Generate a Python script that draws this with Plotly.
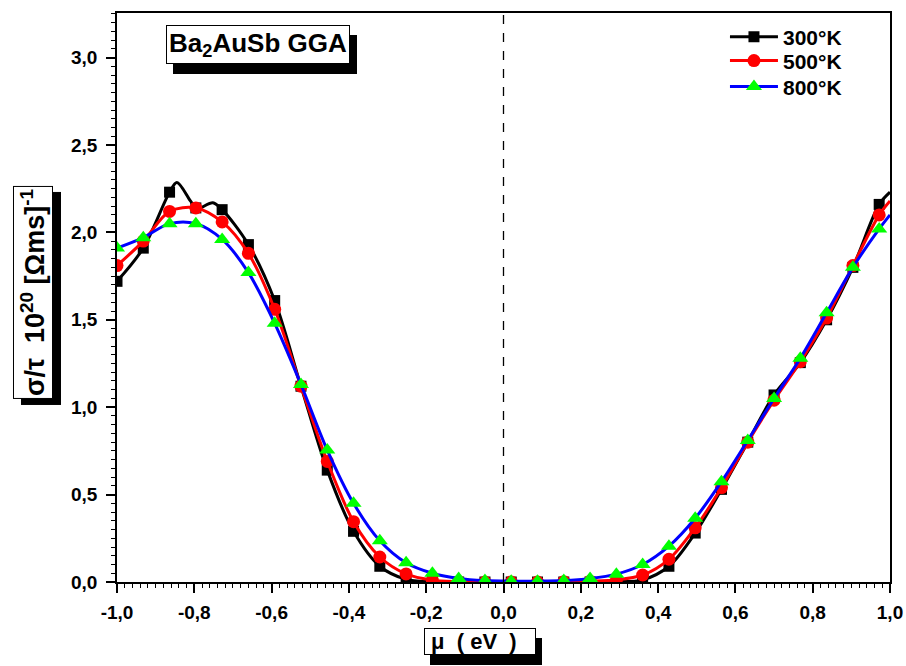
import plotly.graph_objects as go

# ---- data ----
x_marks = [-1.0, -0.932, -0.864, -0.796, -0.728, -0.660, -0.592, -0.524, -0.456, -0.388,
           -0.320, -0.252, -0.184, -0.116, -0.048, 0.020, 0.088, 0.156, 0.224, 0.292,
           0.360, 0.428, 0.496, 0.564, 0.632, 0.700, 0.768, 0.836, 0.904, 0.972]

k300 = [1.72, 1.91, 2.23, 2.14, 2.13, 1.93, 1.61, 1.12, 0.64, 0.29,
        0.09, 0.015, 0.002, 0.0, 0.0, 0.0, 0.0, 0.0, 0.0, 0.002,
        0.012, 0.09, 0.28, 0.53, 0.80, 1.07, 1.255, 1.50, 1.80, 2.16]
k500 = [1.81, 1.95, 2.12, 2.14, 2.06, 1.88, 1.56, 1.12, 0.69, 0.345,
        0.143, 0.046, 0.01, 0.002, 0.0, 0.0, 0.0, 0.002, 0.005, 0.012,
        0.04, 0.13, 0.31, 0.54, 0.80, 1.04, 1.26, 1.51, 1.81, 2.10]
k800 = [1.91, 1.97, 2.05, 2.05, 1.96, 1.77, 1.48, 1.13, 0.755, 0.45,
        0.236, 0.11, 0.05, 0.02, 0.008, 0.005, 0.005, 0.008, 0.02, 0.045,
        0.10, 0.205, 0.365, 0.574, 0.81, 1.05, 1.28, 1.54, 1.80, 2.02]

# curve values at the right edge (x = 1.0)
x_end = 1.0
k300_end, k500_end, k800_end = 2.23, 2.18, 2.10

# extra points on the 300 K curve (wiggles near the left maximum)
k300_extra_x = [-0.845, -0.810, -0.785, -0.752]
k300_extra_y = [2.285, 2.18, 2.14, 2.17]

x_tick_vals = [-1.0, -0.8, -0.6, -0.4, -0.2, 0.0, 0.2, 0.4, 0.6, 0.8, 1.0]
x_tick_text = ["-1,0", "-0,8", "-0,6", "-0,4", "-0,2", "0,0", "0,2", "0,4", "0,6", "0,8", "1,0"]
y_tick_vals = [0.0, 0.5, 1.0, 1.5, 2.0, 2.5, 3.0]
y_tick_text = ["0,0", "0,5", "1,0", "1,5", "2,0", "2,5", "3,0"]

names = ["300°K", "500°K", "800°K"]
line_colors = ["#000000", "#ff0000", "#0000ff"]
marker_colors = ["#000000", "#ff0000", "#00ff00"]
symbols = ["square", "circle", "triangle-up"]
msizes = [11, 13, 14]

FONT = "Liberation Sans, Arial, sans-serif"

fig = go.Figure()

series = [k300, k500, k800]
ends = [k300_end, k500_end, k800_end]
for i, ys in enumerate(series):
    lx = list(x_marks) + [x_end]
    ly = list(ys) + [ends[i]]
    if i == 0:
        pts = sorted(zip(lx + k300_extra_x, ly + k300_extra_y))
        lx = [p[0] for p in pts]
        ly = [p[1] for p in pts]
    fig.add_trace(go.Scatter(x=lx, y=ly, mode="lines", showlegend=False,
                             line=dict(color=line_colors[i], width=3, shape="spline", smoothing=0.9),
                             hoverinfo="skip"))
    fig.add_trace(go.Scatter(x=x_marks, y=ys, mode="markers", showlegend=False,
                             marker=dict(symbol=symbols[i], size=msizes[i], color=marker_colors[i],
                                         line=dict(width=0))))

legend_ids = ["legend", "legend2", "legend3"]
for i in range(3):
    fig.add_trace(go.Scatter(x=[None], y=[None], mode="lines+markers", name=names[i],
                             legend=legend_ids[i],
                             line=dict(color=line_colors[i], width=3),
                             marker=dict(symbol=symbols[i], size=msizes[i], color=marker_colors[i],
                                         line=dict(width=0))))

axis_common = dict(
    showline=True, linecolor="black", linewidth=1.5, mirror=True,
    ticks="outside", ticklen=9, tickwidth=1.5, tickcolor="black",
    showgrid=False, zeroline=False,
    tickfont=dict(family=FONT, size=19, color="black", weight="bold"),
)

fig.update_xaxes(range=[-1.0, 1.0], tickmode="array", tickvals=x_tick_vals, ticktext=x_tick_text,
                 ticklabelstandoff=3,
                 minor=dict(dtick=0.02, tick0=0, ticks="outside", ticklen=4, tickwidth=1, tickcolor="black"),
                 **axis_common)
fig.update_yaxes(range=[0, 3.255], tickmode="array", tickvals=y_tick_vals, ticktext=y_tick_text,
                 ticklabelstandoff=5,
                 minor=dict(dtick=0.05, tick0=0, ticks="outside", ticklen=4, tickwidth=1, tickcolor="black"),
                 **axis_common)

fig.add_shape(type="line", xref="x", yref="paper", x0=0, x1=0, y0=0, y1=1,
              line=dict(color="black", width=1.3, dash="dash"))

def boxed(text, x, y, size, sx, sy, angle=0, pad=3):
    common = dict(xref="paper", yref="paper", x=x, y=y, xanchor="center", yanchor="middle",
                  showarrow=False, textangle=angle, borderwidth=1, borderpad=pad)
    fig.add_annotation(text=text, font=dict(family=FONT, size=size, color="black", weight="bold"),
                       bgcolor="black", bordercolor="black", xshift=sx, yshift=sy, **common)
    fig.add_annotation(text=text, font=dict(family=FONT, size=size, color="black", weight="bold"),
                       bgcolor="white", bordercolor="black", **common)

boxed("Ba<sub>2</sub>AuSb GGA", 0.1824, 0.944, 26, 7, -10, pad=2)
boxed("σ/τ\u00a0\u00a010<sup>20</sup>\u00a0[Ωms]<sup>-1</sup>", -0.1087, 0.5097, 27, 8, -6, angle=-90, pad=2)
boxed("\u00a0μ\u00a0\u00a0(\u00a0eV\u00a0\u00a0)\u00a0\u00a0\u00a0", 0.469, -0.1054, 22, 6, -10, pad=0)

leg_common = dict(x=0.7865, xanchor="left", yanchor="middle",
                  bgcolor="rgba(0,0,0,0)", borderwidth=0,
                  font=dict(family=FONT, size=21, color="black", weight="bold"),
                  itemwidth=48)
leg_y = [0.9578, 0.9157, 0.870]

fig.update_layout(
    width=906, height=666,
    margin=dict(l=117, r=16, t=13, b=84, autoexpand=False),
    paper_bgcolor="white", plot_bgcolor="white",
    font=dict(family=FONT, color="black"),
    legend=dict(y=leg_y[0], **leg_common),
    legend2=dict(y=leg_y[1], **leg_common),
    legend3=dict(y=leg_y[2], **leg_common),
)

fig.write_html("out.html")
